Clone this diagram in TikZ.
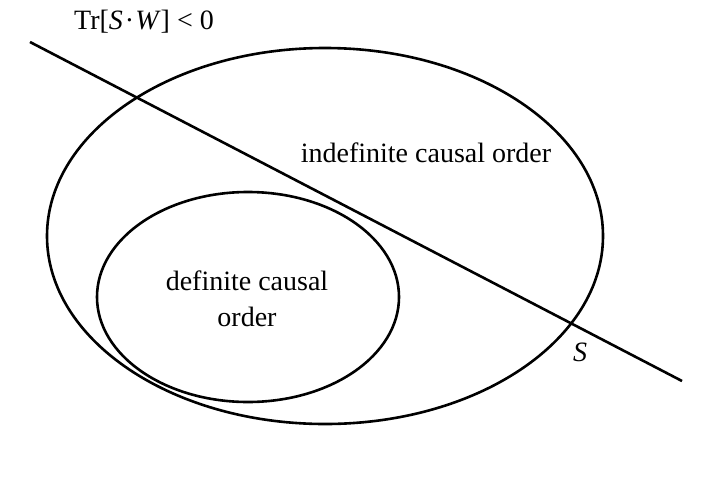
\documentclass[tikz,border=0pt]{standalone}
\usepackage{fontspec}
\setmainfont{Liberation Serif}
\begin{document}
\begin{tikzpicture}[x=1pt,y=-1pt,
  outline/.style={draw=black,line width=2.6pt},
  lbl/.style={font=\fontsize{28}{36}\selectfont,align=center,inner sep=0pt}]
\useasboundingbox (0,0) rectangle (714,485);
\draw[outline] (325,236) ellipse [x radius=278, y radius=188];
\draw[outline] (248,297) ellipse [x radius=151, y radius=105];
\coordinate (a) at (30,42);
\coordinate (b) at (682,381);
\draw[line width=2.6pt] (a) -- (b);
\node[lbl] (tr) at (144,22) {Tr[\textit{S}\kern2pt·\kern1pt\textit{W}] < 0};
\node[lbl] (ind) at (426,153) {indefinite causal order};
\node[lbl] (def) at (247,299) {definite causal\\order};
\node[lbl] (s) at (580,352) {\textit{S}};
\end{tikzpicture}
\end{document}
